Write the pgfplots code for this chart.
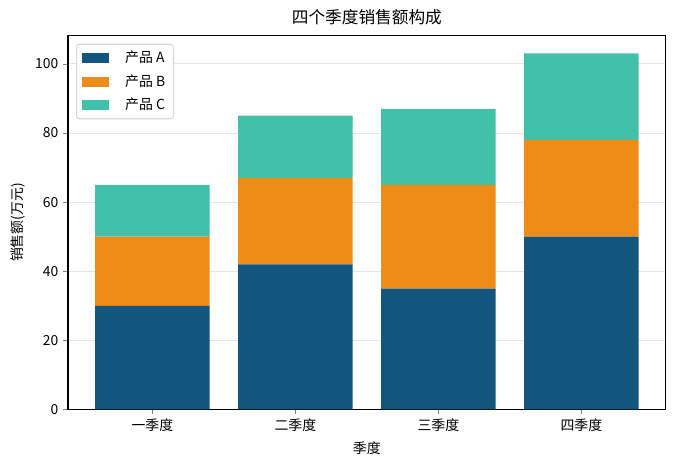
\documentclass[border=0pt]{standalone}
\usepackage{pgfplots}
\pgfplotsset{compat=1.18}
\usepackage{fontspec}
\setmainfont{Noto Sans CJK SC}
\definecolor{cA}{RGB}{19,86,125}
\definecolor{cB}{RGB}{238,140,26}
\definecolor{cC}{RGB}{66,193,168}
\begin{document}
\begin{tikzpicture}
\fill[white] (-49pt,-41pt) rectangle (438pt,295pt);
\begin{axis}[
  scale only axis,
  width=430.6pt, height=269.3pt,
  ybar stacked,
  bar width=0.8,
  bar shift=0pt,
  xmin=-0.59, xmax=3.59,
  ymin=0, ymax=108.15,
  xtick={0,1,2,3},
  xticklabels={一季度,二季度,三季度,四季度},
  ytick={0,20,40,60,80,100},
  xtick pos=bottom, ytick pos=left,
  tick label style={font=\fontsize{10}{12}\selectfont},
  /pgf/number format/assume math mode=true,
  tick align=outside,
  major tick length=3.5pt,
  ymajorgrids,
  grid style={gray!20, line width=0.6pt},
  axis line style={line width=0.8pt},
  xlabel={季度}, ylabel={销售额(万元)},
  label style={font=\fontsize{10}{12}\selectfont},
  title={四个季度销售额构成},
  title style={font=\fontsize{12}{14}\selectfont, yshift=-2pt},
  legend style={at={(0.0134,0.9786)}, anchor=north west,
    font=\fontsize{10}{12}\selectfont, draw=gray!30, rounded corners=2pt,
    line width=0.8pt, row sep=3pt, inner xsep=4pt, inner ysep=3pt},
  legend cell align=left,
  legend image code/.code={\fill[#1, sharp corners] (0pt,-3.6pt) rectangle (19pt,3.6pt);},
  legend style={/tikz/every even column/.append style={column sep=0pt}},
]
\addplot[fill=cA, draw=none] coordinates {(0,30) (1,42) (2,35) (3,50)};
\addlegendentry{\hspace{10pt}产品 A}
\addplot[fill=cB, draw=none] coordinates {(0,20) (1,25) (2,30) (3,28)};
\addlegendentry{\hspace{10pt}产品 B}
\addplot[fill=cC, draw=none] coordinates {(0,15) (1,18) (2,22) (3,25)};
\addlegendentry{\hspace{10pt}产品 C}
\end{axis}
\end{tikzpicture}
\end{document}
